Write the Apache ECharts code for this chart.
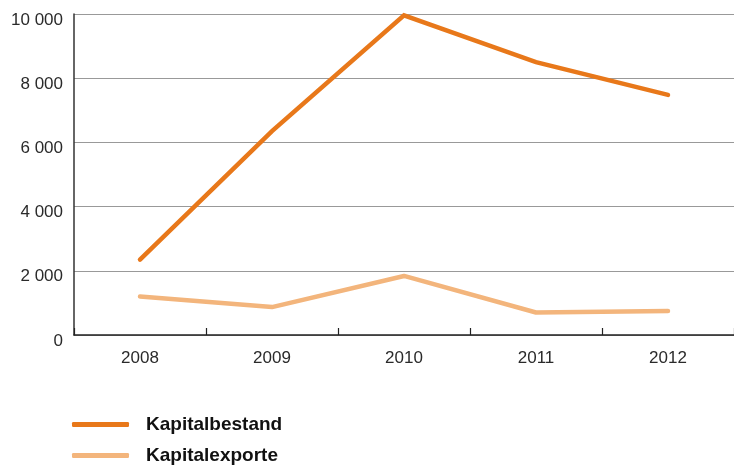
<!DOCTYPE html>
<html><head><meta charset="utf-8">
<script src="https://cdn.jsdelivr.net/npm/echarts@6/dist/echarts.min.js"></script>
<style>html,body{margin:0;padding:0;background:#fff}#c{width:734px;height:468px}</style>
</head><body><div id="c"></div>
<script>
const categories = ['2008','2009','2010','2011','2012'];
const kapitalbestand = [2350, 6350, 9960, 8500, 7480];
const kapitalexporte = [1200, 870, 1840, 700, 750];
const seriesNames = ['Kapitalbestand','Kapitalexporte'];

const chart = echarts.init(document.getElementById('c'));
const fmt = v => v >= 1000 ? String(v).replace(/\B(?=(\d{3})+(?!\d))/g, ' ') : String(v);
chart.setOption({
  animation: false,
  grid: {left: 74, top: 14, width: 665, height: 321, containLabel: false},
  xAxis: {
    type: 'category', data: categories, boundaryGap: true,
    axisLine: {lineStyle: {color: '#222', width: 1.5}},
    axisTick: {show: true, inside: true, length: 7, lineStyle: {color: '#222', width: 1.2}},
    axisLabel: {color: '#2a2a2a', fontSize: 17, fontFamily: 'Liberation Sans, Arial, sans-serif', margin: 15},
    splitLine: {show: false}
  },
  yAxis: {
    type: 'value', min: 0, max: 10000, interval: 2000,
    axisLine: {show: true, lineStyle: {color: '#333', width: 1.5}},
    axisTick: {show: false},
    axisLabel: {color: '#2a2a2a', fontSize: 17, fontFamily: 'Liberation Sans, Arial, sans-serif', margin: 11, verticalAlign: 'top', lineHeight: 12, formatter: fmt},
    splitLine: {lineStyle: {color: '#999', width: 1}}
  },
  legend: {
    orient: 'vertical', left: 72, top: 415, padding: 0, itemWidth: 57, itemHeight: 5, itemGap: 12,
    icon: 'roundRect',
    data: seriesNames,
    textStyle: {fontSize: 19, fontWeight: 'bold', color: '#111', fontFamily: 'Liberation Sans, Arial, sans-serif', padding: [0,0,0,12], lineHeight: 18}
  },
  series: [
    {name: seriesNames[0], type: 'line', data: kapitalbestand, symbol: 'none',
     lineStyle: {color: '#E8781A', width: 4.5, cap: 'round', join: 'miter'}, itemStyle: {color: '#E8781A'}},
    {name: seriesNames[1], type: 'line', data: kapitalexporte, symbol: 'none',
     lineStyle: {color: '#F3B57C', width: 4.5, cap: 'round'}, itemStyle: {color: '#F3B57C'}}
  ]
});
</script></body></html>
